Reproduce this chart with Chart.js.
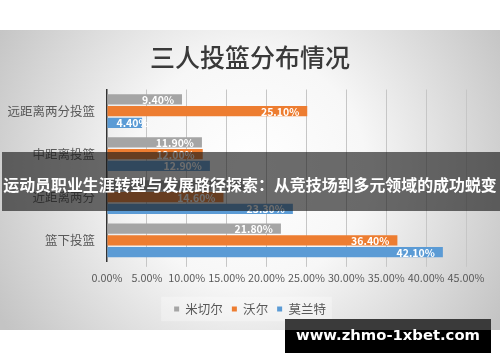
<!DOCTYPE html>
<html><head><meta charset="utf-8">
<script src="https://cdn.jsdelivr.net/npm/chart.js@4.4.0/dist/chart.umd.min.js"></script>
<style>html,body{margin:0;padding:0;background:#fff}canvas{display:block}</style>
</head><body>
<canvas id="c" width="500" height="362"></canvas>
<script>
const categories = ['远距离两分投篮', '中距离投篮', '近距离两分', '篮下投篮'];
const seriesNames = ['米切尔', '沃尔', '莫兰特'];
const mitchell = [9.4, 11.9, 17.2, 21.8];
const wall = [25.1, 12.0, 14.6, 36.4];
const morant = [4.4, 12.9, 23.3, 42.1];
const xMin = 0, xMax = 45, xStep = 5;
const titleText = '三人投篮分布情况';
const bannerText = '运动员职业生涯转型与发展路径探索：从竞技场到多元领域的成功蜕变';
const watermarkText = 'www.zhmo-1xbet.com';
const seriesColors = ['#a5a5a5', '#ed7d31', '#5b9bd5'];
const FF = '"Noto Sans CJK SC", "Noto Sans", sans-serif';

const bgPlugin = {
  id: 'bg',
  beforeDraw(chart) {
    const ctx = chart.ctx;
    ctx.save();
    ctx.fillStyle = '#ffffff';
    ctx.fillRect(0, 0, chart.width, chart.height);
    const g = ctx.createRadialGradient(250, 170, 0, 250, 170, 290);
    g.addColorStop(0, '#ffffff');
    g.addColorStop(0.4, '#f7f7f7');
    g.addColorStop(1, '#c4c4c4');
    ctx.fillStyle = g;
    ctx.fillRect(0, 30, 500, 300);
    const lg = chart.legend;
    if (lg && lg.legendHitBoxes && lg.legendHitBoxes.length) {
      const hb = lg.legendHitBoxes;
      const l = Math.min(...hb.map(b => b.left)) - 13;
      const r = Math.max(...hb.map(b => b.left + b.width)) + 6;
      const t = Math.min(...hb.map(b => b.top)) - 6;
      const bt = Math.max(...hb.map(b => b.top + b.height)) + 6;
      ctx.fillStyle = 'rgba(255,255,255,0.3)';
      ctx.fillRect(l, t, r - l, bt - t);
    }
    ctx.restore();
  }
};

const labelPlugin = {
  id: 'vlabels',
  afterDatasetsDraw(chart) {
    const ctx = chart.ctx;
    ctx.save();
    ctx.font = 'bold 10.5px ' + FF;
    ctx.fillStyle = '#ffffff';
    ctx.textBaseline = 'middle';
    ctx.textAlign = 'right';
    chart.data.datasets.forEach((ds, i) => {
      const meta = chart.getDatasetMeta(i);
      meta.data.forEach((bar, j) => {
        const t = ds.data[j].toFixed(2) + '%';
        const w = ctx.measureText(t).width;
        const x = Math.max(bar.x - 8, bar.base + 9 + w);
        ctx.fillText(t, x, bar.y + 0.5);
      });
    });
    ctx.restore();
  }
};

const overlayPlugin = {
  id: 'overlay',
  afterDraw(chart) {
    const ctx = chart.ctx;
    ctx.save();
    ctx.fillStyle = 'rgba(25,25,25,0.64)';
    ctx.fillRect(2, 152, 498, 59);
    ctx.fillStyle = '#ffffff';
    ctx.textAlign = 'center';
    ctx.textBaseline = 'middle';
    let fs = 16;
    ctx.font = 'bold ' + fs + 'px ' + FF;
    let w = ctx.measureText(bannerText).width;
    if (w > 494) { fs = fs * 494 / w; ctx.font = 'bold ' + fs + 'px ' + FF; }
    ctx.fillText(bannerText, 250, 185);
    ctx.fillStyle = '#3a3a3a';
    ctx.fillRect(285, 319, 206, 11);
    ctx.fillStyle = '#000000';
    ctx.fillRect(285, 330, 206, 23);
    let ws = 17;
    ctx.font = 'bold ' + ws + 'px "DejaVu Sans", sans-serif';
    w = ctx.measureText(watermarkText).width;
    ws = ws * 184 / w;
    ctx.font = 'bold ' + ws + 'px "DejaVu Sans", sans-serif';
    ctx.fillStyle = '#ffffff';
    ctx.fillText(watermarkText, 388, 336);
    ctx.restore();
  }
};

const seriesData = [mitchell, wall, morant];
new Chart(document.getElementById('c'), {
  type: 'bar',
  data: {
    labels: categories,
    datasets: seriesNames.map((n, i) => ({
      label: n,
      data: seriesData[i],
      backgroundColor: seriesColors[i],
      borderWidth: 0,
      categoryPercentage: 0.82,
      barPercentage: 0.87
    }))
  },
  options: {
    indexAxis: 'y',
    responsive: false,
    devicePixelRatio: 1,
    animation: false,
    layout: { padding: { top: 30, left: 7, right: 7, bottom: 36.75 } },
    plugins: {
      title: {
        display: true,
        text: titleText,
        color: '#3a3a3a',
        font: { family: FF, size: 25, weight: 500 },
        padding: { top: 12, bottom: 17.5 }
      },
      legend: {
        position: 'bottom',
        labels: {
          color: '#595959',
          font: { family: FF, size: 12.5 },
          boxWidth: 5,
          boxHeight: 5,
          padding: 9
        }
      },
      tooltip: { enabled: false }
    },
    scales: {
      x: {
        min: xMin, max: xMax,
        ticks: {
          stepSize: xStep,
          autoSkip: false,
          color: '#595959',
          font: { family: FF, size: 10.8 },
          padding: 4.9,
          maxRotation: 0,
          minRotation: 0,
          callback: v => v.toFixed(2) + '%'
        },
        grid: {
          color: c => c.index === 0 ? 'rgba(0,0,0,0)' : '#c6c6c6',
          tickLength: 5,
          drawTicks: true
        },
        border: { display: false },
        afterFit: s => { s.height += 4.15; }
      },
      y: {
        ticks: {
          color: '#595959',
          font: { family: FF, size: 12.5 },
          padding: 12
        },
        grid: { display: false, drawTicks: false, tickLength: 0 },
        border: { display: true, color: '#333333', width: 1.5 },
        afterFit: s => { s.width = 100; }
      },
      yRight: {
        type: 'category',
        position: 'right',
        display: true,
        ticks: { display: false },
        grid: { display: false, drawTicks: false, tickLength: 0 },
        border: { display: false },
        afterFit: s => { s.width = 27; }
      }
    }
  },
  plugins: [bgPlugin, labelPlugin, overlayPlugin]
});
</script>
</body></html>
